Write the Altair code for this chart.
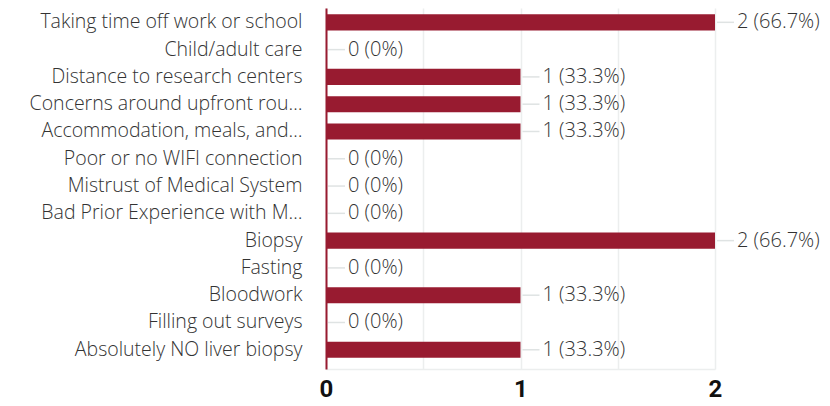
import altair as alt
import pandas as pd

categories = [
    "Taking time off work or school",
    "Child/adult care",
    "Distance to research centers",
    "Concerns around upfront rou…",
    "Accommodation, meals, and…",
    "Poor or no WIFI connection",
    "Mistrust of Medical System",
    "Bad Prior Experience with M…",
    "Biopsy",
    "Fasting",
    "Bloodwork",
    "Filling out surveys",
    "Absolutely NO liver biopsy",
]
counts = [2, 0, 1, 1, 1, 0, 0, 0, 2, 0, 1, 0, 1]
labels = ["2 (66.7%)", "0 (0%)", "1 (33.3%)", "1 (33.3%)", "1 (33.3%)", "0 (0%)",
          "0 (0%)", "0 (0%)", "2 (66.7%)", "0 (0%)", "1 (33.3%)", "0 (0%)", "1 (33.3%)"]
grid_values = [0, 0.5, 1, 1.5, 2]

df = pd.DataFrame({"category": categories, "count": counts, "label": labels})

FONT = "Open Sans"
RED = "#981b30"

x_enc = alt.X(
    "count:Q",
    scale=alt.Scale(domain=[0, 2], nice=False),
    axis=alt.Axis(
        values=grid_values,
        labelExpr="datum.value % 1 == 0 ? toString(datum.value) : ''",
        labelOverlap=False,
        title=None,
        ticks=False,
        grid=True,
        gridColor="#eceeee",
        gridWidth=1.5,
        domainColor="#eceeee",
        domainWidth=1.5,
        labelFont="Roboto",
        labelFontWeight="bold",
        labelFontSize=24,
        labelColor="#111111",
        labelPadding=8,
        labelFlush=False,
    ),
)
y_enc = alt.Y(
    "category:N",
    sort=categories,
    scale=alt.Scale(paddingInner=0.41, paddingOuter=0.32, align=0.36),
    axis=alt.Axis(
        title=None,
        ticks=False,
        domainColor=RED,
        domainWidth=2,
        labelFont=FONT,
        labelFontWeight=300,
        labelFontSize=19.5,
        labelColor="#333333",
        labelPadding=24,
        labelLimit=400,
    ),
)

bars = alt.Chart(df).mark_bar(color=RED).encode(x=x_enc, y=y_enc)

leaders = alt.Chart(df).mark_rule(color="#dfe3e3", strokeWidth=1.5, xOffset=2, x2Offset=19).encode(
    x="count:Q", x2="count:Q", y=alt.Y("category:N", sort=categories, bandPosition=0.5)
)

texts = alt.Chart(df).mark_text(
    align="left", baseline="middle", dx=22, font=FONT, fontWeight=300, fontSize=20, color="#333333"
).encode(x="count:Q", y=alt.Y("category:N", sort=categories), text="label:N")

chart = alt.layer(bars, leaders, texts).properties(
    width=389,
    height=361,
    autosize=alt.AutoSizeParams(type="none"),
    padding={"left": 318, "top": 0, "right": 107, "bottom": 37},
).configure_view(stroke=None)

chart.save("out.html", embed_options={"renderer": "svg", "actions": False})
